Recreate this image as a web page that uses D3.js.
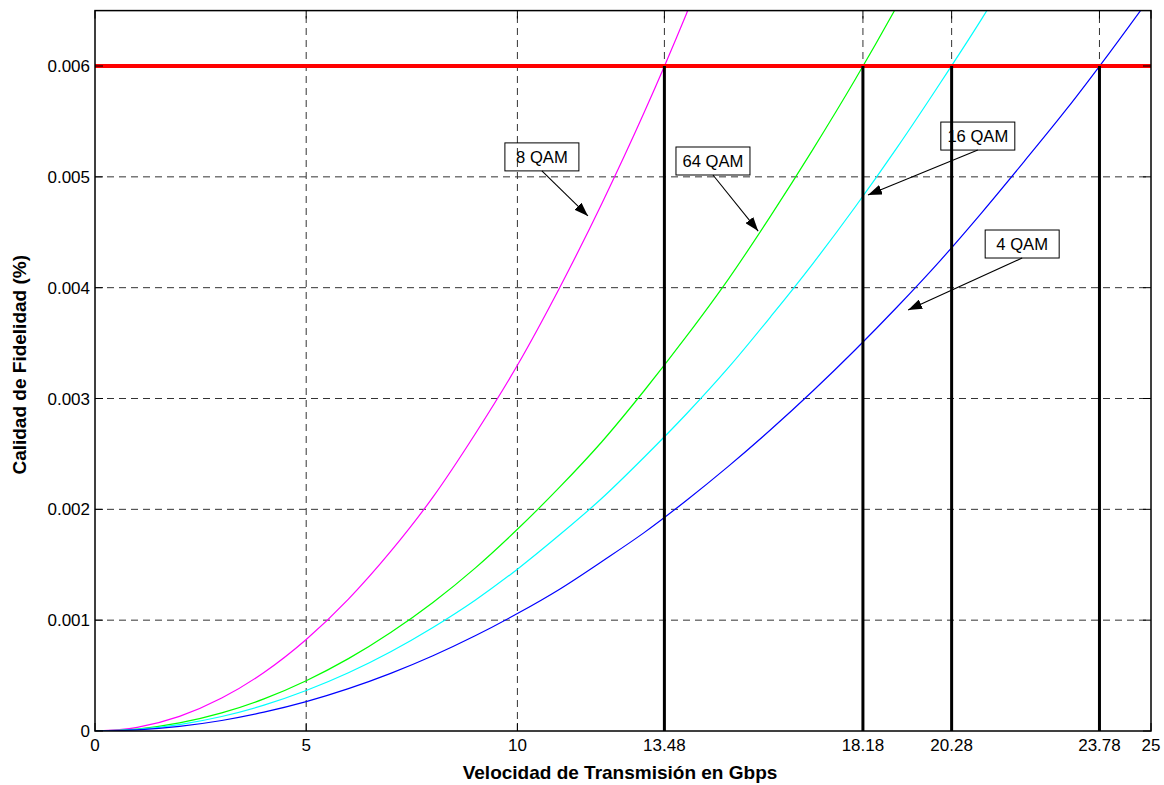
<!DOCTYPE html>
<html>
<head>
<meta charset="utf-8">
<script src="https://cdn.jsdelivr.net/npm/d3@7"></script>
<style>
  body { margin: 0; background: #fff; }
  svg { display: block; }
  text { font-family: "Liberation Sans", Arial, sans-serif; }
</style>
</head>
<body>
<svg id="chart" width="1164" height="785"></svg>
<script>
// ---- Data ----
const xSamples = [0,1,2,3,4,5,6,7,8,9,10,11,12,13,14,15,16,17,18,19,20,21,22,23,24,25];
const qam8  = [0,0.000033,0.000132,0.000297,0.000528,0.000826,0.00119,0.00162,0.00211,0.00268,0.00330,0.00400,0.00476,0.00558,0.00647,0.00743];
const qam64 = [0,0.000018,0.000073,0.000163,0.000290,0.000454,0.000653,0.000889,0.00116,0.00147,0.00182,0.00220,0.00261,0.00307,0.00356,0.00408,0.00465,0.00525,0.00588,0.00655,0.00726];
const qam16 = [0,0.000015,0.000058,0.000131,0.000233,0.000365,0.000525,0.000715,0.000934,0.00118,0.00146,0.00177,0.00210,0.00247,0.00286,0.00328,0.00374,0.00422,0.00473,0.00527,0.00584,0.00643,0.00706];
const qam4  = [0,0.000011,0.000042,0.000095,0.000170,0.000265,0.000382,0.000520,0.000679,0.000859,0.00106,0.00128,0.00153,0.00179,0.00208,0.00239,0.00272,0.00307,0.00344,0.00383,0.00424,0.00468,0.00514,0.00561,0.00611,0.00663];

const seriesNames  = ["8 QAM", "64 QAM", "16 QAM", "4 QAM"];
const seriesColors = ["#ff00ff", "#00ff00", "#00ffff", "#0000ff"];

const threshold = 0.006;
const crossings = [13.48, 18.18, 20.28, 23.78];

const xTicks = [0, 5, 10, 13.48, 18.18, 20.28, 23.78, 25];
const xTickLabels = ["0", "5", "10", "13.48", "18.18", "20.28", "23.78", "25"];
const yTicks = [0, 0.001, 0.002, 0.003, 0.004, 0.005, 0.006];
const yTickLabels = ["0", "0.001", "0.002", "0.003", "0.004", "0.005", "0.006"];

// annotations: label centre and arrow tip in data units
const annLabels = ["8 QAM", "64 QAM", "16 QAM", "4 QAM"];
const annLabelX = [10.58, 14.63, 20.90, 21.95];
const annLabelY = [0.00518, 0.005143, 0.005368, 0.004394];
const annTipX   = [11.67, 15.70, 18.30, 19.25];
const annTipY   = [0.004647, 0.004511, 0.004836, 0.003799];

const xLabel = "Velocidad de Transmisión en Gbps";
const yLabel = "Calidad de Fidelidad (%)";

// ---- Layout ----
const margin = {left: 95, right: 13, top: 10.6, bottom: 54};
const W = 1164, H = 785;
const svg = d3.select("#chart");

const x = d3.scaleLinear().domain([0, 25]).range([margin.left, W - margin.right]);
const y = d3.scaleLinear().domain([0, 0.0065]).range([H - margin.bottom, margin.top]);

const x0 = x.range()[0], x1 = x.range()[1];
const y0 = y.range()[0], y1 = y.range()[1];

const defs = svg.append("defs");
defs.append("clipPath").attr("id", "plotclip")
  .append("rect").attr("x", x0).attr("y", y1).attr("width", x1 - x0).attr("height", y0 - y1);
defs.append("marker").attr("id", "arrowhead")
  .attr("viewBox", "0 0 14 10").attr("refX", 14).attr("refY", 5)
  .attr("markerWidth", 14).attr("markerHeight", 10)
  .attr("markerUnits", "userSpaceOnUse").attr("orient", "auto")
  .append("path").attr("d", "M0,0 L14,5 L0,10 Z").attr("fill", "#000");

// grid
const grid = svg.append("g");
grid.selectAll("line.vg").data(xTicks.filter(d => d > 0 && d < 25)).enter().append("line")
  .attr("x1", d => x(d)).attr("x2", d => x(d)).attr("y1", y0).attr("y2", y1)
  .attr("stroke", "#333").attr("stroke-width", 1).attr("stroke-dasharray", "7,5");
grid.selectAll("line.hg").data(yTicks.filter(d => d > 0)).enter().append("line")
  .attr("x1", x0).attr("x2", x1).attr("y1", d => y(d)).attr("y2", d => y(d))
  .attr("stroke", "#333").attr("stroke-width", 1).attr("stroke-dasharray", "7,5");

// curves
const allSeries = [qam8, qam64, qam16, qam4];
const line = d3.line().x(d => x(d[0])).y(d => y(d[1])).curve(d3.curveMonotoneX);
const curves = svg.append("g").attr("clip-path", "url(#plotclip)");
allSeries.forEach((vals, i) => {
  const pts = vals.map((v, j) => [xSamples[j], v]);
  curves.append("path").datum(pts)
    .attr("d", line).attr("fill", "none")
    .attr("stroke", seriesColors[i]).attr("stroke-width", 1.2);
});

// annotations
const ann = svg.append("g");
annLabels.forEach((lab, i) => {
  const cx = x(annLabelX[i]), cy = y(annLabelY[i]);
  const bw = 74, bh = 28;
  ann.append("rect").attr("x", cx - bw / 2).attr("y", cy - bh / 2)
    .attr("width", bw).attr("height", bh).attr("fill", "none")
    .attr("stroke", "#000").attr("stroke-width", 1);
  ann.append("text").attr("x", cx).attr("y", cy).attr("dy", "0.36em")
    .attr("text-anchor", "middle").attr("font-size", 16.6).attr("fill", "#000").text(lab);
  ann.append("line").attr("x1", cx).attr("y1", cy + bh / 2)
    .attr("x2", x(annTipX[i])).attr("y2", y(annTipY[i]))
    .attr("stroke", "#000").attr("stroke-width", 1.1)
    .attr("marker-end", "url(#arrowhead)");
});

// threshold red line
svg.append("line").attr("x1", x0).attr("x2", x1)
  .attr("y1", y(threshold)).attr("y2", y(threshold))
  .attr("stroke", "#ff0000").attr("stroke-width", 4);

// vertical black lines
svg.selectAll("line.cross").data(crossings).enter().append("line")
  .attr("x1", d => x(d)).attr("x2", d => x(d))
  .attr("y1", y(threshold)).attr("y2", y(0))
  .attr("stroke", "#000").attr("stroke-width", 3);

// frame
svg.append("rect").attr("x", x0).attr("y", y1).attr("width", x1 - x0).attr("height", y0 - y1)
  .attr("fill", "none").attr("stroke", "#000").attr("stroke-width", 1.5);

// inward ticks
const tk = svg.append("g").attr("stroke", "#000").attr("stroke-width", 1);
xTicks.forEach(d => {
  tk.append("line").attr("x1", x(d)).attr("x2", x(d)).attr("y1", y0).attr("y2", y0 - 8);
  tk.append("line").attr("x1", x(d)).attr("x2", x(d)).attr("y1", y1).attr("y2", y1 + 8);
});
yTicks.forEach(d => {
  tk.append("line").attr("x1", x0).attr("x2", x0 + 8).attr("y1", y(d)).attr("y2", y(d));
  tk.append("line").attr("x1", x1).attr("x2", x1 - 8).attr("y1", y(d)).attr("y2", y(d));
});

// tick labels
svg.selectAll("text.xt").data(xTicks).enter().append("text")
  .attr("x", d => x(d)).attr("y", y0 + 20)
  .attr("text-anchor", "middle").attr("font-size", 17).attr("fill", "#000")
  .text((d, i) => xTickLabels[i]);
svg.selectAll("text.yt").data(yTicks).enter().append("text")
  .attr("x", x0 - 5).attr("y", d => y(d)).attr("dy", "0.36em")
  .attr("text-anchor", "end").attr("font-size", 17).attr("fill", "#000")
  .text((d, i) => yTickLabels[i]);

// axis labels
svg.append("text").attr("x", (x0 + x1) / 2 - 3).attr("y", 779)
  .attr("text-anchor", "middle").attr("font-size", 19).attr("font-weight", "bold")
  .attr("fill", "#000").text(xLabel);
svg.append("text").attr("transform", "translate(26," + ((y0 + y1) / 2 - 6) + ") rotate(-90)")
  .attr("text-anchor", "middle").attr("font-size", 19).attr("font-weight", "bold")
  .attr("fill", "#000").text(yLabel);
</script>
</body>
</html>
